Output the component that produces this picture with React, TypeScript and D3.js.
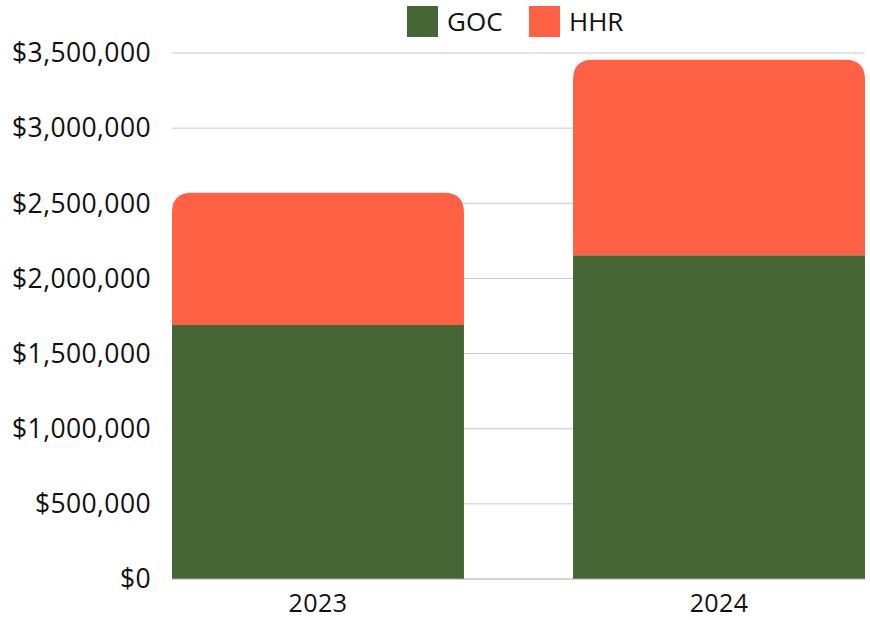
import React, { useEffect, useRef } from 'react';
import * as d3 from 'd3';

const years = ['2023', '2024'];
const goc = [1690000, 2155000];
const hhr = [880000, 1300000];
const seriesNames = ['GOC', 'HHR'];
const colors = ['#476636', '#ff6145'];
const yTicks = [0, 500000, 1000000, 1500000, 2000000, 2500000, 3000000, 3500000];

const W = 870;
const H = 620;
const FONT = "'Open Sans', sans-serif";

// path for a bar with only the top corners rounded
const topRounded = (x: number, y: number, w: number, h: number, r: number) => {
  const rr = Math.min(r, w / 2, h);
  return `M${x},${y + h}V${y + rr}Q${x},${y} ${x + rr},${y}H${x + w - rr}Q${x + w},${y} ${x + w},${y + rr}V${y + h}Z`;
};

const App = () => {
  const svgRef = useRef<SVGSVGElement>(null);

  useEffect(() => {
    const svg = d3.select(svgRef.current);
    svg.selectAll('*').remove();

    const margin = { top: 53, right: 5, bottom: 41, left: 172 };
    const width = W - margin.left - margin.right;
    const height = H - margin.top - margin.bottom;

    const x = d3.scaleBand().domain(years).range([0, width]).paddingInner(0.272).paddingOuter(0);
    const y = d3.scaleLinear().domain([0, 3500000]).range([height, 0]);

    const g = svg.append('g').attr('transform', `translate(${margin.left},${margin.top})`);

    // gridlines
    g.selectAll('line.grid')
      .data(yTicks.slice(1))
      .enter()
      .append('line')
      .attr('x1', 0)
      .attr('x2', width)
      .attr('y1', d => y(d))
      .attr('y2', d => y(d))
      .attr('stroke', '#c8c8c8')
      .attr('stroke-width', 1);

    // y labels
    const fmt = d3.format('$,');
    g.selectAll('text.ylab')
      .data(yTicks)
      .enter()
      .append('text')
      .attr('x', -21)
      .attr('y', d => y(d))
      .attr('dy', '0.35em')
      .attr('text-anchor', 'end')
      .attr('font-family', FONT)
      .attr('font-size', 26.5)
      .attr('letter-spacing', 0.4)
      .attr('fill', '#111')
      .text(d => fmt(d));

    const rows = years.map((yr, i) => ({ year: yr, GOC: goc[i], HHR: hhr[i] }));
    const stacked = d3.stack<any>().keys(seriesNames)(rows);

    stacked.forEach((layer, li) => {
      g.selectAll(`path.s${li}`)
        .data(layer)
        .enter()
        .append('path')
        .attr('fill', colors[li])
        .attr('d', d => {
          const bx = x(d.data.year) as number;
          const y0 = y(d[0]);
          const y1 = y(d[1]);
          if (li === seriesNames.length - 1) return topRounded(bx, y1, x.bandwidth(), y0 - y1, 20);
          return `M${bx},${y1}h${x.bandwidth()}V${y0}H${bx}Z`;
        });
    });

    // baseline
    g.append('line')
      .attr('x1', 0)
      .attr('x2', width)
      .attr('y1', y(0))
      .attr('y2', y(0))
      .attr('stroke', '#aaaaaa')
      .attr('stroke-width', 1);

    // x labels
    g.selectAll('text.xlab')
      .data(years)
      .enter()
      .append('text')
      .attr('x', d => (x(d) as number) + x.bandwidth() / 2)
      .attr('y', height + 33)
      .attr('text-anchor', 'middle')
      .attr('font-family', FONT)
      .attr('font-size', 25)
      .attr('letter-spacing', 0.4)
      .attr('fill', '#111')
      .text(d => d);

    // legend
    const legendX = [407, 529];
    seriesNames.forEach((name, i) => {
      svg.append('rect')
        .attr('x', legendX[i])
        .attr('y', 6)
        .attr('width', 31)
        .attr('height', 31)
        .attr('fill', colors[i]);
      svg.append('text')
        .attr('x', legendX[i] + 40)
        .attr('y', 31)
        .attr('font-family', FONT)
        .attr('font-size', 26)
        .attr('fill', '#111')
        .text(name);
    });
  }, []);

  return (
    <svg
      ref={svgRef}
      width={W}
      height={H}
      style={{ position: 'absolute', left: 0, top: 0, background: '#fff' }}
    />
  );
};

export default App;
